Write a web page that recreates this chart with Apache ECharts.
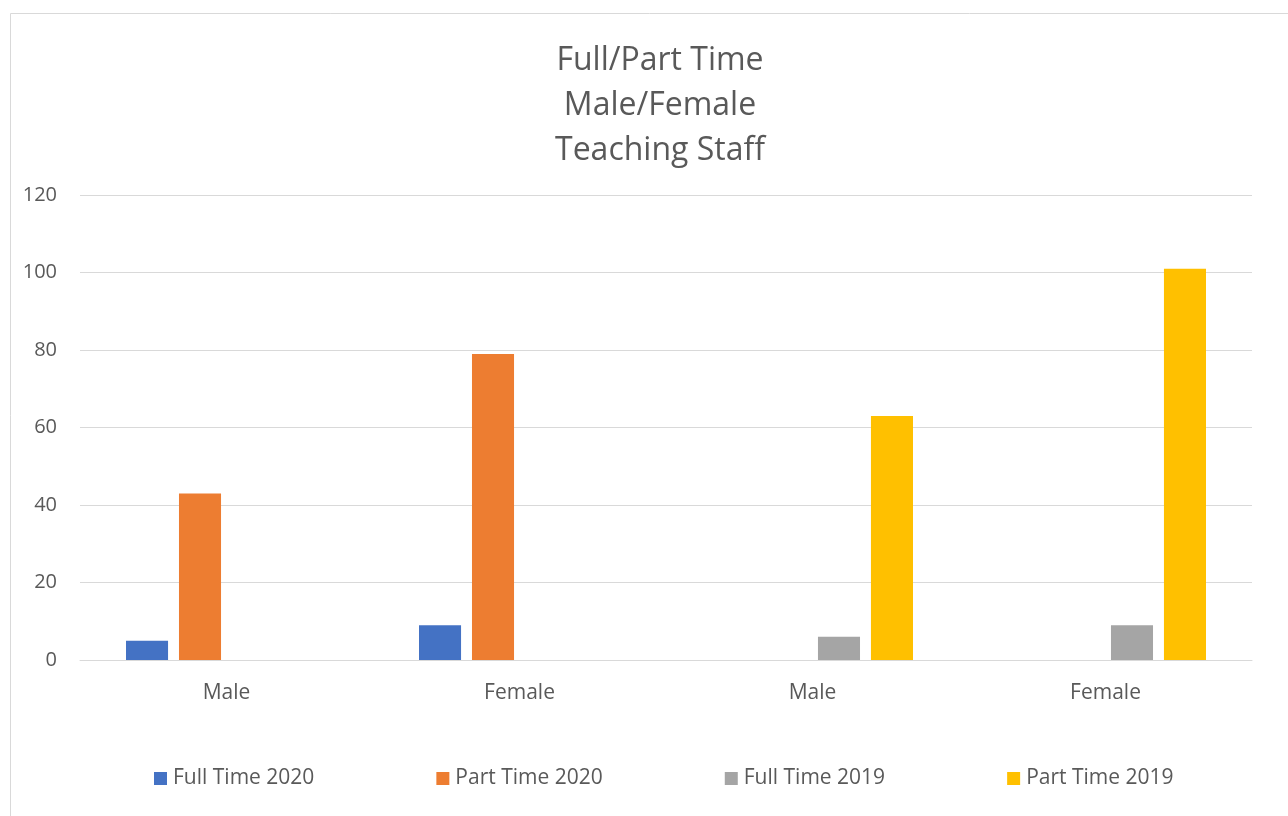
<!DOCTYPE html>
<html><head><meta charset="utf-8">
<script src="https://cdn.jsdelivr.net/npm/echarts@6/dist/echarts.min.js"></script>
<style>html,body{margin:0;padding:0;background:#fff}#c{width:1288px;height:816px}</style>
</head><body><div id="c"></div>
<script>
const categories = ['Male', 'Female', 'Male', 'Female'];
const fullTime2020 = [5, 9, null, null];
const partTime2020 = [43, 79, null, null];
const fullTime2019 = [null, null, 6, 9];
const partTime2019 = [null, null, 63, 101];
const seriesNames = ['Full Time 2020', 'Part Time 2020', 'Full Time 2019', 'Part Time 2019'];
const colors = ['#4472C4', '#ED7D31', '#A5A5A5', '#FFC000'];
const yMin = 0, yMax = 120, yInterval = 20;

const font = 'Open Sans';
const chart = echarts.init(document.getElementById('c'));
const dataSets = [fullTime2020, partTime2020, fullTime2019, partTime2019];
chart.setOption({
  animation: false,
  color: colors,
  graphic: [{type: 'rect', shape: {x: 10.5, y: 13.5, width: 1300, height: 830}, style: {fill: 'none', stroke: '#d9d9d9', lineWidth: 1}, silent: true}],
  title: {
    text: 'Full/Part Time\nMale/Female\nTeaching Staff',
    left: 655, top: 33, textAlign: 'center',
    textStyle: {fontFamily: font, fontSize: 32, fontWeight: 'normal', color: '#595959', lineHeight: 45}
  },
  legend: {
    top: 763, left: 149, itemGap: 122, itemWidth: 13, itemHeight: 13, icon: 'rect',
    textStyle: {fontFamily: font, fontSize: 21, color: '#595959', padding: [0, 0, 0, 1]},
    data: seriesNames
  },
  grid: {left: 80, right: 36, top: 195, bottom: 156},
  xAxis: {
    type: 'category', data: categories,
    axisLine: {lineStyle: {color: '#d9d9d9', width: 1}},
    axisTick: {show: false},
    axisLabel: {fontFamily: font, fontSize: 21, color: '#595959', margin: 23}
  },
  yAxis: {
    type: 'value', min: yMin, max: yMax, interval: yInterval,
    axisLine: {show: false}, axisTick: {show: false},
    splitLine: {lineStyle: {color: '#d9d9d9', width: 1}},
    axisLabel: {fontFamily: font, fontSize: 20, color: '#595959', margin: 23}
  },
  series: dataSets.map((d, i) => ({
    name: seriesNames[i], type: 'bar', data: d,
    barGap: '26%', barCategoryGap: '31.4%'
  }))
});
</script></body></html>
